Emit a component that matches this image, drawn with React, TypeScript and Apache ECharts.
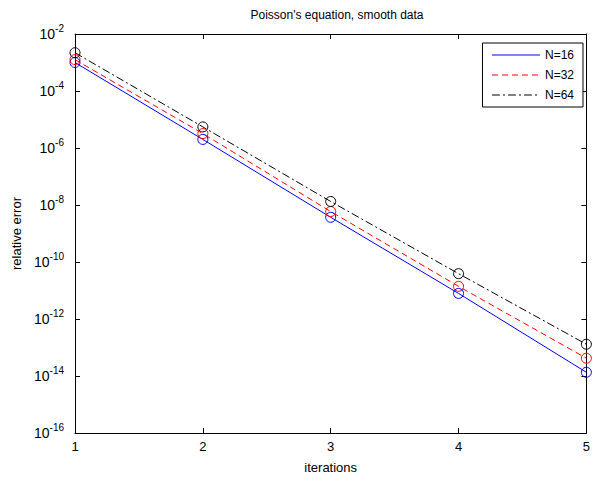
import React, { useEffect, useRef } from "react";
import * as echarts from "echarts";

const iterations = [1, 2, 3, 4, 5];
const errN16 = [1.0e-3, 2.0e-6, 3.7e-9, 7.9e-12, 1.35e-14];
const errN32 = [1.26e-3, 3.2e-6, 5.9e-9, 1.4e-11, 4.2e-14];
const errN64 = [2.2e-3, 5.5e-6, 1.33e-8, 3.9e-11, 1.3e-13];
const seriesNames = ["N=16", "N=32", "N=64"];
const seriesColors = ["#0000ff", "#ff0000", "#000000"];
const seriesDash: any[] = ["solid", [6, 4], [8, 3, 2, 3]];

const FONT = "'Liberation Sans', Arial, sans-serif";

export default function App() {
  const ref = useRef<HTMLDivElement>(null);
  useEffect(() => {
    if (!ref.current) return;
    const chart = echarts.init(ref.current, null, { renderer: "svg" });
    const all = [errN16, errN32, errN64];
    const lineSeries = all.map((vals, i) => ({
      name: seriesNames[i],
      type: "line",
      data: iterations.map((x, k) => [x, vals[k]]),
      symbol: "none",
      lineStyle: { color: seriesColors[i], width: 1, type: seriesDash[i] },
      itemStyle: { color: seriesColors[i] },
      z: 3,
    }));
    const markerSeries = all.map((vals, i) => ({
      name: seriesNames[i] + "_m",
      type: "scatter",
      data: iterations.map((x, k) => [x, vals[k]]),
      symbol: "circle",
      symbolSize: 10,
      itemStyle: { color: "transparent", borderColor: seriesColors[i], borderWidth: 1, opacity: 1 },
      z: 4,
    }));
    const logLabel = (v: number) => {
      const e = Math.round(Math.log10(v));
      return `{b|10}{s|${e}}`;
    };
    const axisLine = { show: true, lineStyle: { color: "#000", width: 1 } };
    chart.setOption({
      animation: false,
      textStyle: { fontFamily: FONT },
      title: {
        text: "Poisson's equation, smooth data",
        left: 332,
        top: 4,
        textAlign: "center",
        textStyle: { fontSize: 12, fontWeight: "normal", color: "#000", fontFamily: FONT },
      },
      grid: { left: 75, right: 4, top: 34, bottom: 40, containLabel: false },
      legend: {
        data: seriesNames,
        orient: "vertical",
        right: 10,
        top: 43,
        backgroundColor: "#fff",
        borderColor: "#000",
        borderWidth: 1,
        borderRadius: 0,
        padding: [6, 9, 6, 9],
        itemGap: 8,
        itemWidth: 48,
        itemHeight: 14,
        itemStyle: { opacity: 0 },
        lineStyle: { width: 1 },
        textStyle: { fontSize: 12, color: "#000", fontFamily: FONT },
      },
      xAxis: [
        {
          type: "value",
          min: 1,
          max: 5,
          interval: 1,
          name: "iterations",
          nameLocation: "middle",
          nameGap: 28,
          nameTextStyle: { fontSize: 13, color: "#000", fontFamily: FONT },
          axisLine,
          axisTick: { show: true, inside: true, length: 5, lineStyle: { color: "#000" } },
          axisLabel: { fontSize: 13, color: "#000", margin: 7, fontFamily: FONT },
          splitLine: { show: false },
        },
        {
          type: "value",
          position: "top",
          min: 1,
          max: 5,
          interval: 1,
          axisLine,
          axisTick: { show: true, inside: true, length: 5, lineStyle: { color: "#000" } },
          axisLabel: { show: false },
          splitLine: { show: false },
        },
      ],
      yAxis: [
        {
          type: "log",
          logBase: 10,
          min: 1e-16,
          max: 1e-2,
          interval: 2,
          name: "relative error",
          nameLocation: "middle",
          nameGap: 49,
          nameTextStyle: { fontSize: 13, color: "#000", fontFamily: FONT },
          axisLine,
          axisTick: { show: true, inside: true, length: 5, lineStyle: { color: "#000" } },
          axisLabel: {
            formatter: logLabel,
            margin: 11,
            rich: {
              b: { fontSize: 14, color: "#000", fontFamily: FONT, verticalAlign: "middle", lineHeight: 14 },
              s: { fontSize: 10, color: "#000", fontFamily: FONT, verticalAlign: "middle", lineHeight: 10, padding: [0, 0, 12, 0] },
            },
          },
          splitLine: { show: false },
        },
        {
          type: "log",
          logBase: 10,
          position: "right",
          min: 1e-16,
          max: 1e-2,
          interval: 2,
          axisLine,
          axisTick: { show: true, inside: true, length: 5, lineStyle: { color: "#000" } },
          axisLabel: { show: false },
          splitLine: { show: false },
        },
      ],
      series: [...lineSeries, ...markerSeries],
    });
    return () => chart.dispose();
  }, []);
  return <div ref={ref} style={{ width: 593, height: 479, position: "absolute", left: 0, top: 0, background: "#fff" }} />;
}
